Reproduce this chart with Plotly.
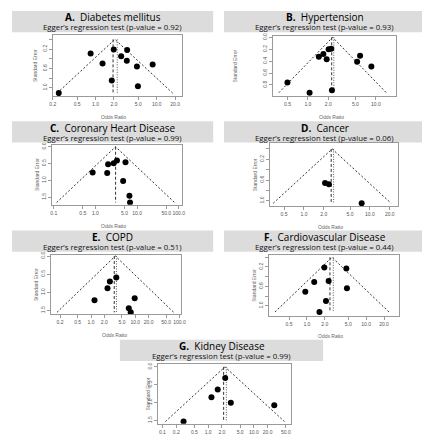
import math
import plotly.graph_objects as go

# ---------------- data ----------------
letters = ["A", "B", "C", "D", "E", "F", "G"]
names = ["Diabetes mellitus", "Hypertension", "Coronary Heart Disease", "Cancer",
         "COPD", "Cardiovascular Disease", "Kidney Disease"]
egger_p = ["0.92", "0.93", "0.99", "0.06", "0.51", "0.44", "0.99"]

A_or = [0.25, 0.83, 1.30, 1.98, 1.84, 2.62, 3.28, 3.24, 4.74, 4.92, 8.57]
A_se = [1.11, 0.29, 0.50, 0.21, 0.85, 0.35, 0.22, 0.44, 0.56, 0.97, 0.52]
B_or = [0.50, 1.06, 1.45, 1.69, 1.89, 2.02, 2.21, 2.26, 5.31, 5.87, 8.60]
B_se = [0.76, 0.93, 0.325, 0.28, 0.37, 0.20, 0.19, 0.89, 0.41, 0.31, 0.49]
C_or = [0.86, 1.92, 2.02, 2.75, 3.29, 5.27, 4.63, 6.55, 6.77]
C_se = [0.77, 0.78, 0.52, 0.49, 0.41, 0.46, 1.02, 1.46, 1.66]
D_or = [2.09, 2.39, 7.50]
D_se = [0.66, 0.68, 1.05]
E_or = [1.20, 2.36, 2.67, 3.73, 9.70, 7.14, 7.90]
E_se = [1.22, 0.89, 0.70, 0.59, 1.16, 1.44, 1.55]
F_or = [0.94, 1.33, 1.63, 1.97, 2.10, 2.33, 4.63, 4.74]
F_se = [0.71, 0.51, 1.13, 0.21, 0.90, 0.49, 0.23, 0.64]
G_or = [0.29, 1.18, 1.62, 2.36, 3.13, 27.9]
G_se = [1.53, 0.85, 0.63, 0.31, 1.00, 1.07]

# pooled estimate (funnel centre) and two reference lines
pooled = [2.07, 2.31, 3.05, 2.68, 3.55, 2.65, 2.33]
ref_dashed = [1.93, 2.24, 3.05, 2.59, 3.35, 2.45, 2.18]
ref_dotted = [2.26, 2.41, None, 2.82, 3.75, 2.79, 2.50]

x_ticks = [
    [0.2, 0.5, 1, 2, 5, 10, 20],
    [0.5, 1, 2, 5, 10],
    [0.1, 0.5, 1, 5, 10, 50, 100],
    [0.5, 1, 2, 5, 10, 20],
    [0.2, 0.5, 1, 2, 5, 10, 20, 50, 100],
    [0.5, 1, 2, 5, 10, 20],
    [0.1, 0.2, 0.5, 1, 2, 5, 10, 20, 50],
]
y_ticks_a = [0, 0.2, 0.4, 0.6, 0.8, 1.0]
y_text_a = ["", "0.2", "", "0.6", "", "1.0"]
y_ticks_b = [0, 0.2, 0.4, 0.6, 0.8]
y_text_b = ["0.0", "0.2", "0.4", "0.6", "0.8"]
y_ticks_c = [0, 0.5, 1.0, 1.5]
y_text_c = ["0.0", "0.5", "1.0", "1.5"]

ors = [A_or, B_or, C_or, D_or, E_or, F_or, G_or]
ses = [A_se, B_se, C_se, D_se, E_se, F_se, G_se]
y_ticks = [y_ticks_a, y_ticks_b, y_ticks_c, y_ticks_a, y_ticks_c, y_ticks_a, y_ticks_c]
y_texts = [y_text_a, y_text_b, y_text_c, y_text_a, y_text_c, y_text_a, y_text_c]

# ---------------- layout geometry (pixels) ----------------
W, H = 430, 440
boxes = [  # left, right, top, bottom
    (42.5, 174, 24, 85.7), (267, 392, 24.7, 85.7),
    (41.7, 174, 134.7, 195), (264, 394, 133.3, 196.7),
    (40.7, 173.3, 245.7, 305), (262.7, 395, 246, 306.7),
    (150, 285, 355, 415.7)]
x_ranges = [[-0.701, 1.409], [-0.513, 1.293], [-1.042, 2.071], [-0.513, 1.421],
            [-0.905, 2.035], [-0.642, 1.548], [-1.092, 1.805]]
y_ranges = [[1.172, -0.093], [0.987, -0.03], [1.725, -0.059], [1.109, -0.107],
            [1.593, -0.027], [1.204, -0.041], [1.594, -0.092]]
headers = [(1, 206, 0), (217, 422, 0), (1, 206, 111), (217, 422, 111),
           (1, 206, 221), (217, 422, 221), (111, 318, 331)]
se_label_x = [25, 228, 26.7, 248, 26, 248, 139.3]
or_label_x = [104, 327, 104, 326, 105, 326, 211.7]


def fx(x):
    return x / W


def fy(y):
    return 1 - y / H


fig = go.Figure()
shapes = []
annotations = []
tick_font = dict(family="Liberation Sans", size=5, color="#555")
ax_col = "#9a9a9a"

for i in range(7):
    n = i + 1
    xa = "x" if n == 1 else f"x{n}"
    ya = "y" if n == 1 else f"y{n}"
    L, R, T, B = boxes[i]
    c = pooled[i]
    smax = max(ses[i])
    k = math.exp(1.96 * smax)
    # funnel
    fig.add_trace(go.Scatter(
        x=[c / k, c, c * k], y=[smax, 0, smax], mode="lines",
        line=dict(color="#333", width=1, dash="2px,2px"),
        xaxis=xa, yaxis=ya, showlegend=False, hoverinfo="skip"))
    # reference lines
    fig.add_trace(go.Scatter(
        x=[ref_dashed[i], ref_dashed[i]], y=[0, smax], mode="lines",
        line=dict(color="#333", width=1, dash="3px,2px"),
        xaxis=xa, yaxis=ya, showlegend=False, hoverinfo="skip"))
    if ref_dotted[i] is not None:
        fig.add_trace(go.Scatter(
            x=[ref_dotted[i], ref_dotted[i]], y=[0, smax], mode="lines",
            line=dict(color="#555", width=1, dash="1px,1.5px"),
            xaxis=xa, yaxis=ya, showlegend=False, hoverinfo="skip"))
    # studies
    fig.add_trace(go.Scatter(
        x=ors[i], y=ses[i], mode="markers",
        marker=dict(color="black", size=6, line=dict(width=0)),
        xaxis=xa, yaxis=ya, showlegend=False))

    xt = x_ticks[i]
    fig.layout[f"xaxis{'' if n == 1 else n}"] = dict(
        type="log", domain=[fx(L), fx(R)], range=x_ranges[i], anchor=ya,
        tickvals=xt, ticktext=[f"{v:.1f}" for v in xt], tickangle=0,
        showline=True, mirror=True, linecolor=ax_col, linewidth=1,
        ticks="outside", ticklen=3, tickcolor=ax_col, tickfont=tick_font,
        showgrid=False, zeroline=False)
    fig.layout[f"yaxis{'' if n == 1 else n}"] = dict(
        domain=[fy(B), fy(T)], range=y_ranges[i], anchor=xa,
        tickvals=y_ticks[i], ticktext=y_texts[i], tickangle=-90,
        showline=True, mirror=True, linecolor=ax_col, linewidth=1,
        ticks="outside", ticklen=3, tickcolor=ax_col, tickfont=tick_font,
        showgrid=False, zeroline=False)

    # header box
    hx0, hx1, htop = headers[i]
    shapes.append(dict(type="rect", xref="paper", yref="paper",
                       x0=fx(hx0), x1=fx(hx1), y0=fy(htop + 21.5), y1=fy(htop),
                       fillcolor="#dcdcdc", line=dict(width=0), layer="below"))
    cx = (hx0 + hx1) / 2
    annotations.append(dict(
        xref="paper", yref="paper", x=fx(cx), y=fy(htop + 6.4),
        text=f"<b>{letters[i]}.</b>  {names[i]}", showarrow=False,
        font=dict(family="Open Sans", size=10, color="black"),
        xanchor="center", yanchor="middle", borderpad=0))
    annotations.append(dict(
        xref="paper", yref="paper", x=fx(cx), y=fy(htop + 16.4),
        text=f"Egger\u2019s regression test (p-value = {egger_p[i]})", showarrow=False,
        font=dict(family="Open Sans", size=7.8, color="#111"),
        xanchor="center", yanchor="middle", borderpad=0))
    # axis titles
    annotations.append(dict(
        xref="paper", yref="paper", x=fx(se_label_x[i]), y=fy((T + B) / 2),
        text="Standard Error", textangle=-90, showarrow=False,
        font=dict(family="Liberation Sans", size=5, color="#666"),
        xanchor="center", yanchor="middle", borderpad=0))
    annotations.append(dict(
        xref="paper", yref="paper", x=fx(or_label_x[i]), y=fy(min(B + 21, 433.5)),
        text="Odds Ratio", showarrow=False,
        font=dict(family="Liberation Sans", size=5, color="#666"),
        xanchor="center", yanchor="middle", borderpad=0))

fig.update_layout(
    width=W, height=H, margin=dict(l=0, r=0, t=0, b=0),
    paper_bgcolor="white", plot_bgcolor="white",
    shapes=shapes, annotations=annotations, showlegend=False)

fig.write_html("out.html")
